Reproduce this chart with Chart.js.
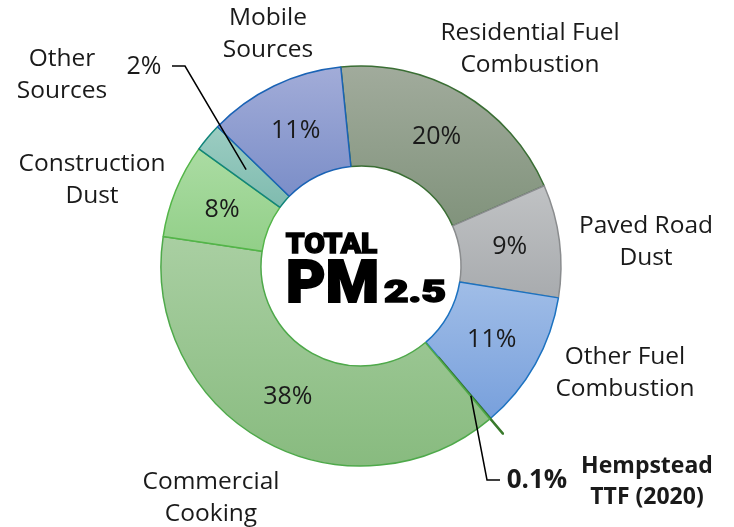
<!DOCTYPE html>
<html><head><meta charset="utf-8">
<script src="https://cdn.jsdelivr.net/npm/chart.js@4/dist/chart.umd.min.js"></script>
<style>html,body{margin:0;padding:0;background:#fff;}canvas{display:block;}</style>
</head><body>
<canvas id="c" width="734" height="527"></canvas>
<script>
// ---- data ----
const categories = ["Residential Fuel Combustion","Paved Road Dust","Other Fuel Combustion","Hempstead TTF (2020)","Commercial Cooking","Construction Dust","Other Sources","Mobile Sources"];
const shares = [20.0, 9.1, 11.2, 0.1, 38.4, 7.6, 2.3, 11.1];
const shareLabels = ["20%","9%","11%","0.1%","38%","8%","2%","11%"];
const labelLines = [["Residential Fuel","Combustion"],["Paved Road","Dust"],["Other Fuel","Combustion"],["Hempstead","TTF (2020)"],["Commercial","Cooking"],["Construction","Dust"],["Other","Sources"],["Mobile","Sources"]];
const centerTitle = ["TOTAL","PM","2.5"];

// ---- styles ----
const topColors    = ["#a1ab9c","#c0c2c4","#a0bde7","#3a7a2c","#a9cfa2","#abdca3","#9ccdc2","#a2acd8"];
const bottomColors = ["#81937c","#a8abae","#78a0dc","#3a7a2c","#88bb7f","#92cf88","#7fbbaf","#7b8ec8"];
const borderColors = ["#3a6e34","#8a8c8e","#1c72c0","#3a7a2c","#4ea94a","#53b548","#11857a","#1a63b5"];
const borderWidths = [1.5,1.5,1.5,2.5,1.5,1.5,1.5,1.5];
const offsets      = [0,0,0,40,0,0,0,0];
const SPACING = 2.5 + 40;
const ROT = -5.8;
const labelPos = [[530,33],[646,226],[625,357],[647,466],[211,482],[92,164],[62,59],[268,18]];
const FONT = '"Open Sans", "Liberation Sans", sans-serif';
const HEAVY = 'Roboto, Inter, "Liberation Sans", sans-serif';

function sliceGradient(ctx){
  const chart = ctx.chart, area = chart.chartArea, i = ctx.dataIndex;
  if (!area || ctx.type !== 'data') return topColors[i];
  const cx = (area.left+area.right)/2, cy = (area.top+area.bottom)/2;
  const R = (Math.min(area.width, area.height) - SPACING)/2, r = R/2;
  const total = shares.reduce((a,b)=>a+b,0);
  let a0 = ROT*Math.PI/180 - Math.PI/2;
  for (let k=0;k<i;k++) a0 += shares[k]/total*2*Math.PI;
  const a1 = a0 + shares[i]/total*2*Math.PI;
  let ymin=Infinity, ymax=-Infinity;
  for (let s=0;s<=40;s++){
    const a = a0 + (a1-a0)*s/40;
    for (const rr of [r,R]){ const y = cy + Math.sin(a)*rr; ymin=Math.min(ymin,y); ymax=Math.max(ymax,y); }
  }
  if (ymax-ymin < 1) ymax = ymin+1;
  const g = chart.ctx.createLinearGradient(0,ymin,0,ymax);
  g.addColorStop(0, topColors[i]); g.addColorStop(1, bottomColors[i]);
  return g;
}

function heavyText(c, text, x, base, size, width, stroke){
  c.save();
  c.font = '900 ' + size + 'px ' + HEAVY;
  const w = c.measureText(text).width + stroke;
  c.translate(x, base);
  c.scale(width / w, 1);
  c.lineWidth = stroke; c.lineJoin = 'miter'; c.strokeStyle = '#000';
  c.fillText(text, stroke/2, 0);
  c.strokeText(text, stroke/2, 0);
  c.restore();
}

const annotate = {
  id:'annotate',
  afterDatasetsDraw(chart){
    const c = chart.ctx, meta = chart.getDatasetMeta(0);
    const a = chart.chartArea, cx=(a.left+a.right)/2, cy=(a.top+a.bottom)/2;
    c.save();
    c.fillStyle = '#1a1a1a';
    c.textAlign='center'; c.textBaseline='middle';
    // inner percentages
    c.font = '25px ' + FONT;
    meta.data.forEach((arc,i)=>{
      if (i===3 || i===6) return;
      const p = arc.tooltipPosition();
      c.fillText(shareLabels[i], p.x, p.y);
    });
    // category labels
    labelLines.forEach((lines,i)=>{
      const [x,y] = labelPos[i];
      c.font = (i===3 ? 'bold 23px ' : '24.5px ') + FONT;
      const lh = i===3 ? 31 : 32.5;
      lines.forEach((t,k)=> c.fillText(t, x, y + k*lh));
    });
    // outside percentages
    c.font = '25px ' + FONT; c.fillText(shareLabels[6], 144, 67);
    c.font = 'bold 26px ' + FONT; c.fillText(shareLabels[3], 537, 481);
    // leader lines
    c.strokeStyle = '#000'; c.lineWidth = 1.5;
    const p6 = meta.data[6].tooltipPosition();
    c.beginPath(); c.moveTo(172,66); c.lineTo(185,66); c.lineTo(p6.x, p6.y); c.stroke();
    const h = meta.data[3];
    const ha = (h.startAngle+h.endAngle)/2;
    const hx = h.x + Math.cos(ha)*170, hy = h.y + Math.sin(ha)*170;
    c.beginPath(); c.moveTo(hx,hy); c.lineTo(487,480); c.lineTo(500,480); c.stroke();
    // center title
    c.fillStyle = '#000'; c.textAlign='left'; c.textBaseline='alphabetic';
    heavyText(c, centerTitle[0], cx-76, cy-13, 28, 93, 1.4);
    heavyText(c, centerTitle[1], cx-76, cy+36, 59, 95, 2);
    heavyText(c, centerTitle[2], cx+22, cy+36, 32, 64, 1.6);
    c.restore();
  }
};

new Chart(document.getElementById('c'), {
  type:'doughnut',
  data:{ labels: categories, datasets:[{
    data: shares,
    backgroundColor: sliceGradient,
    borderColor: borderColors,
    borderWidth: borderWidths,
    hoverBorderWidth: borderWidths,
    offset: offsets,
    hoverOffset: 0
  }]},
  options:{
    responsive:false, animation:false, events:[],
    rotation: ROT, cutout:'50%',
    layout:{ padding:{ left:139.75, right:151.75, top:44.75, bottom:39.75 } },
    plugins:{ legend:{display:false}, tooltip:{enabled:false} }
  },
  plugins:[annotate]
});
</script>
</body></html>
